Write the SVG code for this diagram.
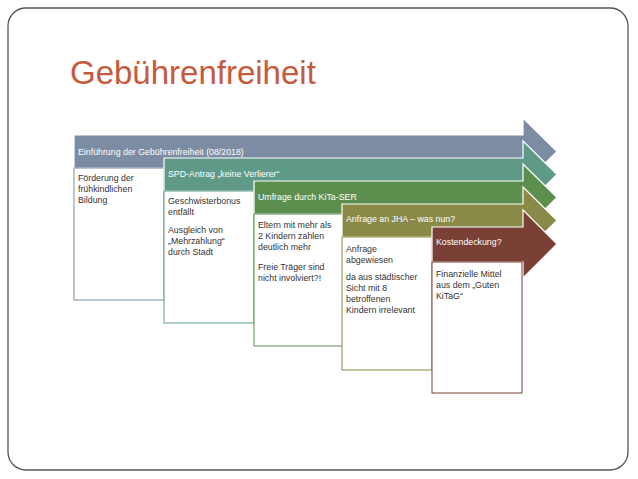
<svg xmlns="http://www.w3.org/2000/svg" width="638" height="479" viewBox="0 0 638 479">
<style>
text{font-family:"Liberation Sans","Noto Sans",sans-serif;font-size:8.8px;fill:#333}
.h{fill:#fff}
.bar{stroke:#fff;stroke-width:1.2}
.box{fill:#fff;stroke-width:1}
</style>
<rect width="638" height="479" fill="#fff"/>
<rect x="8" y="8" width="620" height="462" rx="18" fill="none" stroke="#555" stroke-width="1.3"/>
<text x="70" y="84" style="font-size:33px;fill:#C55A3E">Gebührenfreiheit</text>
<g id="n1">
<path class="bar" fill="#7C8CA3" d="M74 135H523V118L557 151.5L523 185V168H74Z"/>
<rect class="box" x="74" y="168" width="90" height="132" stroke="#7C8CA3"/>
<text class="h" x="78" y="155">Einführung der Gebührenfreiheit (08/2018)</text>
<text x="78" y="181">Förderung der</text><text x="78" y="192">frühkindlichen</text><text x="78" y="203">Bildung</text>
</g>
<g id="n2">
<path class="bar" fill="#5E9A87" d="M164 158H523V141L557 174.5L523 208V191H164Z"/>
<rect class="box" x="164" y="191" width="90" height="132" stroke="#5E9A87"/>
<text class="h" x="168" y="177">SPD-Antrag „keine Verlierer“</text>
<text x="168" y="204">Geschwisterbonus</text><text x="168" y="215">entfällt</text>
<text x="168" y="233">Ausgleich von</text><text x="168" y="244">„Mehrzahlung“</text><text x="168" y="255">durch Stadt</text>
</g>
<g id="n3">
<path class="bar" fill="#5C8F4E" d="M254 181H523V164L557 197.5L523 231V214H254Z"/>
<rect class="box" x="254" y="214" width="90" height="132" stroke="#5C8F4E"/>
<text class="h" x="258" y="200">Umfrage durch KiTa-SER</text>
<text x="258" y="228">Eltern mit mehr als</text><text x="258" y="239">2 Kindern zahlen</text><text x="258" y="250">deutlich mehr</text>
<text x="258" y="270">Freie Träger sind</text><text x="258" y="281">nicht involviert?!</text>
</g>
<g id="n4">
<path class="bar" fill="#8A8A48" d="M342 204H523V187L557 220.5L523 254V237H342Z"/>
<rect class="box" x="342" y="237" width="90" height="133" stroke="#8A8A48"/>
<text class="h" x="346" y="222">Anfrage an JHA – was nun?</text>
<text x="346" y="252">Anfrage</text><text x="346" y="263">abgewiesen</text>
<text x="346" y="280">da aus städtischer</text><text x="346" y="291">Sicht mit 8</text><text x="346" y="302">betroffenen</text><text x="346" y="313">Kindern irrelevant</text>
</g>
<g id="n5">
<path class="bar" fill="#7A4035" d="M432 227H523V210L557 244L523 278V262H432Z"/>
<rect class="box" x="432" y="262" width="90" height="131" stroke="#7A4035"/>
<text class="h" x="436" y="245">Kostendeckung?</text>
<text x="436" y="277">Finanzielle Mittel</text><text x="436" y="288">aus dem „Guten</text><text x="436" y="299">KiTaG“</text>
</g>
<g id="connectors"/>
</svg>
